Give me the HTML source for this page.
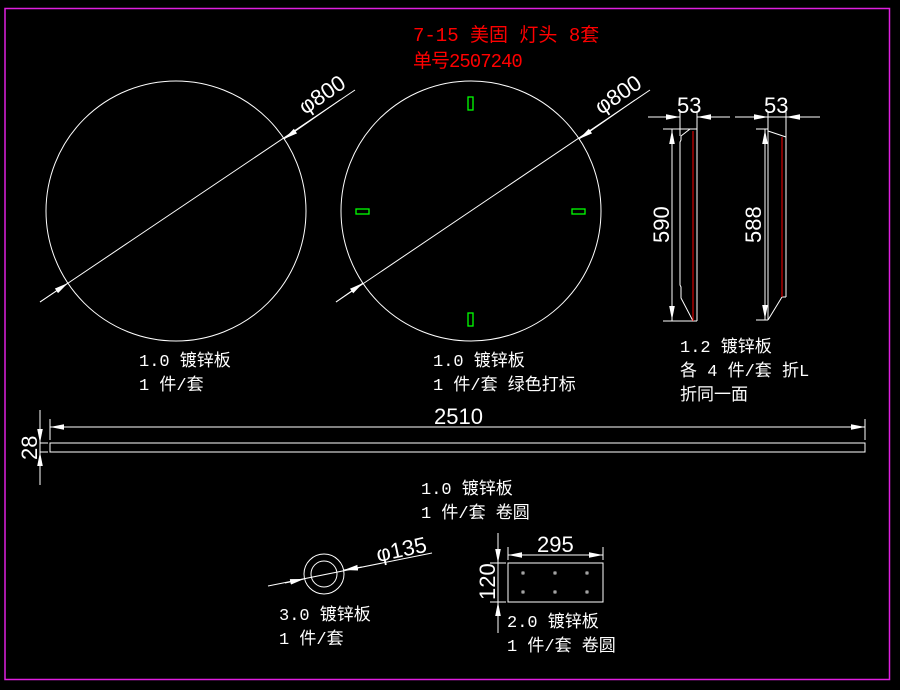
<!DOCTYPE html>
<html><head><meta charset="utf-8"><style>
html,body{margin:0;padding:0;background:#000;}
svg{display:block}
text{font-family:"Liberation Mono","Noto Sans CJK SC",monospace;}
.d{font-family:"Liberation Sans",sans-serif;}
</style></head><body>
<svg width="900" height="690" viewBox="0 0 900 690" xmlns="http://www.w3.org/2000/svg">
<rect width="900" height="690" fill="#000"/>
<rect x="5" y="8.5" width="884.5" height="671" fill="none" stroke="#e020e0" stroke-width="1.5"/>
<defs>
<marker id="a" viewBox="0 0 10 4" refX="10" refY="2" markerWidth="14" markerHeight="6" markerUnits="userSpaceOnUse" orient="auto"><path d="M0,0L10,2L0,4z" fill="#fff"/></marker>
</defs>
<g stroke="#fff" fill="none" stroke-width="1">
<circle cx="176" cy="211" r="130"/>
<circle cx="471" cy="211" r="130"/>
<line x1="40" y1="302" x2="355" y2="90"/>
<line x1="336" y1="302" x2="650" y2="90"/>
<line x1="40" y1="302" x2="68" y2="283" marker-end="url(#a)"/>
<line x1="340" y1="100" x2="284" y2="139" marker-end="url(#a)"/>
<line x1="336" y1="302" x2="363" y2="283" marker-end="url(#a)"/>
<line x1="635" y1="100" x2="579" y2="139" marker-end="url(#a)"/>
<line x1="648" y1="117" x2="680" y2="117"/>
<line x1="730" y1="117" x2="697" y2="117"/>
<line x1="660" y1="117" x2="680" y2="117" marker-end="url(#a)"/>
<line x1="715" y1="117" x2="697" y2="117" marker-end="url(#a)"/>
<line x1="680" y1="112" x2="680" y2="136"/>
<line x1="697" y1="112" x2="697" y2="321"/>
<path d="M690,129 L697,129 M681,136 L690,129 M681,136 L681,140 L680,142 L680,285 L681,287 L681,298 L693,321 L697,321"/>
<line x1="663" y1="129" x2="690" y2="129"/>
<line x1="663" y1="321" x2="697" y2="321"/>
<line x1="672" y1="129" x2="672" y2="321"/>
<line x1="672" y1="150" x2="672" y2="130" marker-end="url(#a)"/>
<line x1="672" y1="300" x2="672" y2="320" marker-end="url(#a)"/>
<line x1="693" y1="131" x2="693" y2="321" stroke="#f00"/>
<line x1="735" y1="117" x2="820" y2="117"/>
<line x1="748" y1="117" x2="768" y2="117" marker-end="url(#a)"/>
<line x1="805" y1="117" x2="786" y2="117" marker-end="url(#a)"/>
<line x1="768" y1="112" x2="768" y2="320"/>
<line x1="786" y1="112" x2="786" y2="297"/>
<path d="M768,131 L786,137 M786,297 L782,297 L768,320"/>
<line x1="756" y1="129" x2="768" y2="129"/>
<line x1="756" y1="320" x2="768" y2="320"/>
<line x1="765" y1="129" x2="765" y2="320"/>
<line x1="765" y1="150" x2="765" y2="130" marker-end="url(#a)"/>
<line x1="765" y1="300" x2="765" y2="319" marker-end="url(#a)"/>
<line x1="782" y1="137" x2="782" y2="297" stroke="#f00"/>
<line x1="50" y1="419" x2="50" y2="440"/>
<line x1="865" y1="419" x2="865" y2="440"/>
<line x1="50" y1="427" x2="865" y2="427"/>
<line x1="70" y1="427" x2="50" y2="427" marker-end="url(#a)"/>
<line x1="845" y1="427" x2="865" y2="427" marker-end="url(#a)"/>
<rect x="50" y="443" width="815" height="9"/>
<line x1="40" y1="410" x2="40" y2="485"/>
<line x1="40" y1="443" x2="48" y2="443"/><line x1="40" y1="452" x2="48" y2="452"/>
<line x1="40" y1="425" x2="40" y2="443" marker-end="url(#a)"/>
<line x1="40" y1="470" x2="40" y2="452" marker-end="url(#a)"/>
<circle cx="324" cy="574" r="20"/>
<circle cx="324" cy="574" r="13"/>
<line x1="268" y1="586" x2="432" y2="553"/>
<line x1="285" y1="583" x2="304" y2="579" marker-end="url(#a)"/>
<line x1="362" y1="567" x2="344" y2="570" marker-end="url(#a)"/>
<rect x="508" y="563" width="95" height="39"/>
<line x1="508" y1="547" x2="508" y2="560"/><line x1="603" y1="547" x2="603" y2="560"/>
<line x1="508" y1="555" x2="603" y2="555"/>
<line x1="525" y1="555" x2="508" y2="555" marker-end="url(#a)"/>
<line x1="586" y1="555" x2="603" y2="555" marker-end="url(#a)"/>
<line x1="498" y1="533" x2="498" y2="633"/>
<line x1="490" y1="563" x2="506" y2="563"/><line x1="490" y1="602" x2="506" y2="602"/>
<line x1="498" y1="545" x2="498" y2="563" marker-end="url(#a)"/>
<line x1="498" y1="620" x2="498" y2="602" marker-end="url(#a)"/>
<g stroke-width="0.8">
<rect x="522" y="572" width="2" height="2"/><rect x="554" y="572" width="2" height="2"/><rect x="586" y="572" width="2" height="2"/>
<rect x="522" y="591" width="2" height="2"/><rect x="554" y="591" width="2" height="2"/><rect x="586" y="591" width="2" height="2"/>
</g>
</g>
<g stroke="#00ff00" fill="none" stroke-width="1.3">
<rect x="468" y="97" width="5" height="13"/>
<rect x="468" y="313" width="5" height="13"/>
<rect x="356" y="209" width="13" height="5"/>
<rect x="572" y="209" width="13" height="5"/>
</g>
<g fill="#f00" font-size="19">
<text x="413" y="41">7-15 美固 灯头 8套</text>
<text x="413" y="67" letter-spacing="-1">单号2507240</text>
</g>
<g fill="#fff" font-size="22">
<text class="d" transform="translate(305,115) rotate(-34)">φ800</text>
<text class="d" transform="translate(601,115) rotate(-34)">φ800</text>
<text class="d" x="677" y="113">53</text>
<text class="d" x="764" y="113">53</text>
<text class="d" transform="translate(669,243) rotate(-90)">590</text>
<text class="d" transform="translate(761,243) rotate(-90)">588</text>
<text class="d" x="434" y="424">2510</text>
<text class="d" transform="translate(37,460) rotate(-90)">28</text>
<text class="d" transform="translate(378,562) rotate(-12)">φ135</text>
<text class="d" x="537" y="552">295</text>
<text class="d" transform="translate(495,600) rotate(-90)">120</text>
</g>
<g fill="#fff" font-size="17">
<text x="139" y="366">1.0 镀锌板</text>
<text x="139" y="390">1 件/套</text>
<text x="433" y="366">1.0 镀锌板</text>
<text x="433" y="390">1 件/套  绿色打标</text>
<text x="680" y="352">1.2 镀锌板</text>
<text x="680" y="376">各 4 件/套 折L</text>
<text x="680" y="400">折同一面</text>
<text x="421" y="494">1.0 镀锌板</text>
<text x="421" y="518">1 件/套 卷圆</text>
<text x="279" y="620">3.0 镀锌板</text>
<text x="279" y="644">1 件/套</text>
<text x="507" y="627">2.0 镀锌板</text>
<text x="507" y="651">1 件/套 卷圆</text>
</g>
</svg>
</body></html>
